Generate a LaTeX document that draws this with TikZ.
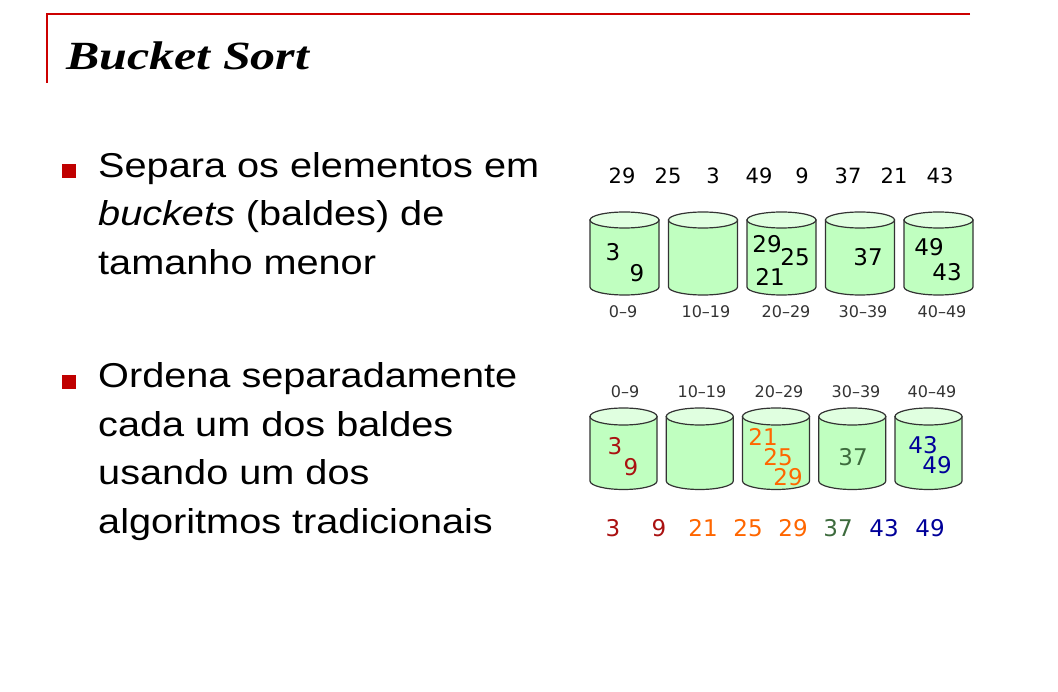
\documentclass[tikz,border=0pt]{standalone}
\usepackage{fontspec}
\setmainfont{Liberation Sans}[FakeStretch=1.15]
\newfontfamily\titlefont{Liberation Serif}[FakeStretch=1.25]
\newfontfamily\figfont{DejaVu Sans}
\usetikzlibrary{calc}

\definecolor{slidered}{HTML}{CC0000}
\definecolor{bulletred}{HTML}{C00000}
\definecolor{bucketgreen}{HTML}{C0FFC0}
\definecolor{bucketlid}{HTML}{E0FFE0}
\definecolor{edgegray}{HTML}{333333}
\definecolor{numred}{HTML}{AA1111}
\definecolor{numorange}{HTML}{FF6600}
\definecolor{numgreen}{HTML}{3D6B3D}
\definecolor{numblue}{HTML}{000099}

\begin{document}
\begin{tikzpicture}[
        x=1pt, y=-1pt,
        slideframe/.style={draw=slidered, line width=2pt},
        slidetitle/.style={anchor=base west, inner sep=0pt, font=\titlefont\bfseries\itshape\fontsize{40}{48}\selectfont},
        bulletmark/.style={fill=bulletred, inner sep=0pt, minimum size=14pt},
        bullettext/.style={anchor=base west, inner sep=0pt, font=\fontsize{34.5}{40}\selectfont},
        bucketbody/.style={fill=bucketgreen, draw=edgegray, line width=1.2pt},
        bucketlidstyle/.style={fill=bucketlid, draw=edgegray, line width=1.2pt},
        innum/.style={inner sep=0pt, font=\figfont\fontsize{21}{24}\selectfont},
        num/.style={inner sep=0pt, font=\figfont\fontsize{23}{26}\selectfont},
        rangelabel/.style={inner sep=0pt, text=edgegray, font=\figfont\fontsize{16}{18}\selectfont},
    ]
    \useasboundingbox (0, 0) rectangle (1058, 692);

    \draw[slideframe] (970, 14.3) -- (47.3, 14.3) -- (47.3, 83);
    \node[slidetitle] (title) at (66, 70) {Bucket Sort};

    \node[bulletmark] (mark1) at (68.5, 171.5) {};
    \foreach \t [count=\i] in {Separa os elementos em, \textit{buckets} (baldes) de, tamanho menor}
        \node[bullettext] (sep\i) at (98, 129 + 48.5*\i) {\t};

    \node[bulletmark] (mark2) at (68.5, 382) {};
    \foreach \t [count=\i] in {Ordena separadamente, cada um dos baldes, usando um dos, algoritmos tradicionais}
        \node[bullettext] (ord\i) at (98, 339.5 + 48.5*\i) {\t};

    % unsorted input
    \foreach \v/\x in {29/622, 25/668, 3/713, 49/759, 9/802, 37/848, 21/894, 43/940}
        \node[innum] (in\v) at (\x, 176) {\v};

    % scatter into buckets
    \foreach \i/\r/\lx in {0/0–9/623, 1/10–19/706, 2/20–29/786, 3/30–39/863, 4/40–49/942}
    {
        \coordinate (bkt\i) at (624.5 + 78.5*\i, 220);
        \filldraw[bucketbody] ($(bkt\i) + (-34.5, 0)$) -- ++(0, 67)
            arc[start angle=180, end angle=360, x radius=34.5pt, y radius=8pt] -- ++(0, -67) -- cycle;
        \filldraw[bucketlidstyle] (bkt\i) ellipse [x radius=34.5pt, y radius=8pt];
        \node[rangelabel] (bktlabel\i) at (\lx, 312) {\r};
    }
    \foreach \v/\x/\y in {3/613/252, 9/637/273, 29/767/244, 25/795/257, 21/770/277, 37/868/257, 49/929/247, 43/947/272}
        \node[num] (bk\v) at (\x, \y) {\v};

    % sort each bucket
    \foreach \i/\r/\lx in {0/0–9/625, 1/10–19/702, 2/20–29/779, 3/30–39/856, 4/40–49/932}
    {
        \coordinate (srt\i) at (623.5 + 76.25*\i, 416.5);
        \node[rangelabel] (srtlabel\i) at (\lx, 392) {\r};
        \filldraw[bucketbody] ($(srt\i) + (-33.5, 0)$) -- ++(0, 64.5)
            arc[start angle=180, end angle=360, x radius=33.5pt, y radius=8.5pt] -- ++(0, -64.5) -- cycle;
        \filldraw[bucketlidstyle] (srt\i) ellipse [x radius=33.5pt, y radius=8.5pt];
    }
    \foreach \v/\x/\y/\c in {3/615/446/numred, 9/631/467/numred, 21/763/437/numorange, 25/778/457/numorange,
            29/788/477/numorange, 37/853/457/numgreen, 43/923/445/numblue, 49/937/465/numblue}
        \node[num, text=\c] (st\v) at (\x, \y) {\v};

    % gathered output
    \foreach \v/\x/\c in {3/613/numred, 9/659/numred, 21/703/numorange, 25/748/numorange,
            29/793/numorange, 37/838/numgreen, 43/884/numblue, 49/930/numblue}
        \node[num, text=\c] (out\v) at (\x, 528) {\v};
\end{tikzpicture}
\end{document}
